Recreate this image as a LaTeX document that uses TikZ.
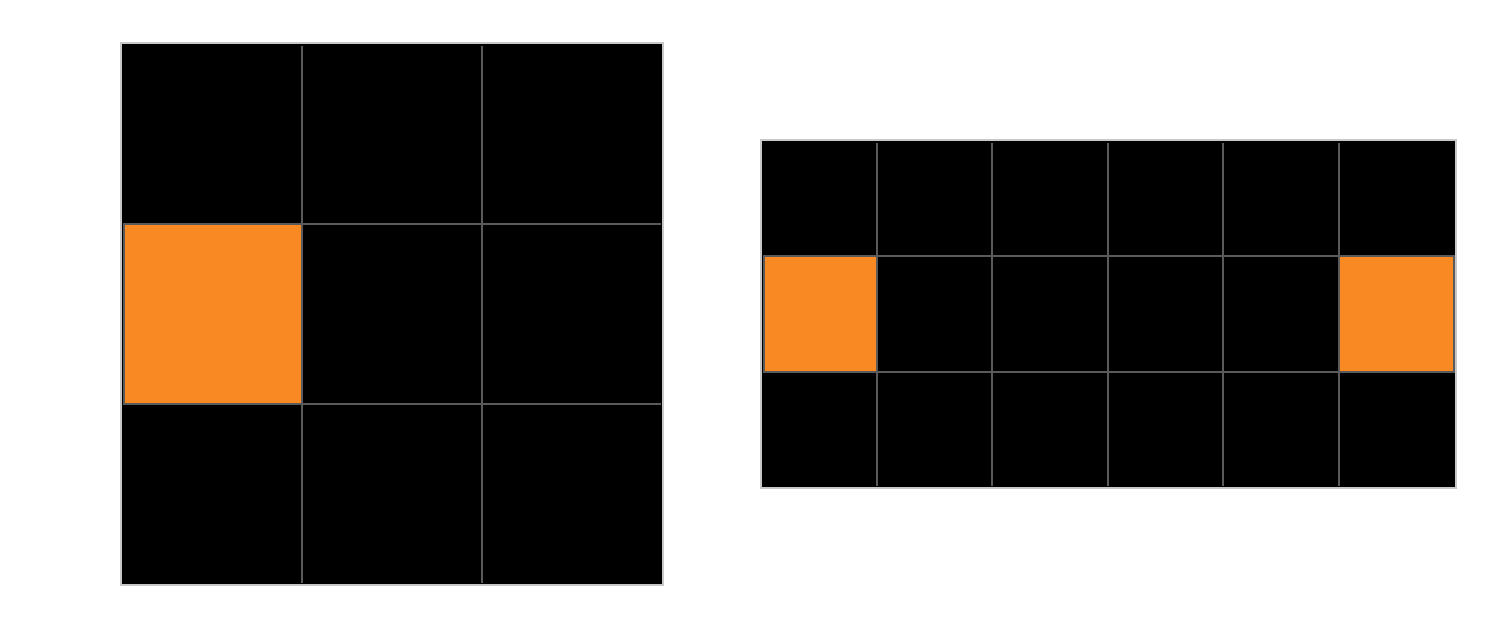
\documentclass[tikz,border=0pt]{standalone}
\usepackage{xcolor}
\usepackage{tikz}
\usetikzlibrary{positioning}
\definecolor{cellorange}{HTML}{F98A23}
\definecolor{gridgray}{HTML}{5A5A5A}
\definecolor{edgegray}{HTML}{C8C8C8}

\begin{document}
\begin{tikzpicture}[
          x=0.01cm,y=-0.01cm,
          board/.style={draw=edgegray,line width=0.4pt,fill=black},
          gridline/.style={draw=gridgray,line width=0.6pt},
          hot/.style={fill=cellorange,draw=gridgray,line width=0.6pt}
      ]
        \useasboundingbox (0,0) rectangle (1500,629);
        % square board, 3 by 3
        \path[board] (121,43) rectangle (663,585);
        \foreach \x in {302,482}
          \draw[gridline] (\x,46) -- (\x,583);
        \foreach \y in {224,404}
          \draw[gridline] (124,\y) -- (661,\y);
        \path[hot] (124,224) rectangle (302,404);

        % wide board, 6 by 3
        \path[board] (761,140) rectangle (1456,488);
        \foreach \x in {877,992,1108,1223,1339}
          \draw[gridline] (\x,143) -- (\x,486);
        \foreach \y in {256,372}
          \draw[gridline] (764,\y) -- (1454,\y);
        \path[hot] (764,256) rectangle (877,372);
        \path[hot] (1339,256) rectangle (1454,372);
      \end{tikzpicture}
\end{document}
